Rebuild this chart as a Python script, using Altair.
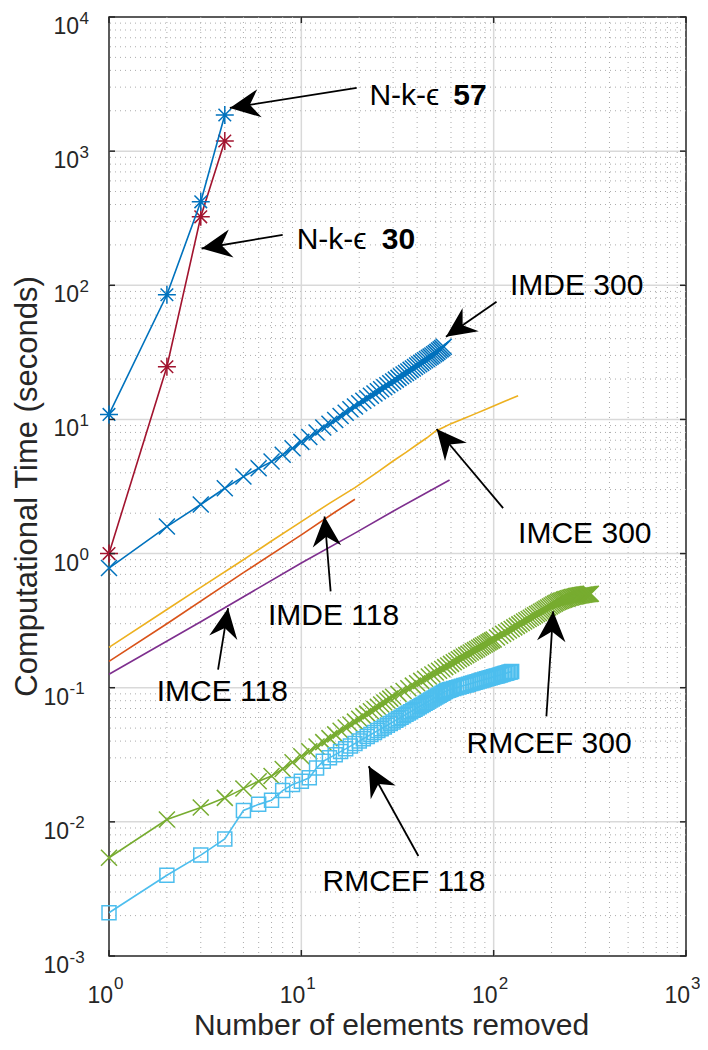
import math
import pandas as pd
import altair as alt

W, H = 577, 939
FONT = "Liberation Sans"
AX = "#262626"

# ---------------- axis ticks ----------------
x_ticks = [1, 10, 100, 1000]
y_ticks = [0.001, 0.01, 0.1, 1, 10, 100, 1000, 10000]
minor_x = [m * t for t in x_ticks[:-1] for m in range(2, 10)]
minor_y = [m * t for t in y_ticks[:-1] for m in range(2, 10)]

x_title = "Number of elements removed"
y_title = "Computational Time (seconds)"

# ---------------- data ----------------
nk57_x = [1, 2, 3, 4]
nk57_y = [10.9, 85, 419, 1860]

nk30_x = [1, 2, 3, 4]
nk30_y = [1.0, 24.7, 324, 1190]

imde300_x = list(range(1, 56))
imde300_y = [0.78, 1.59, 2.32, 3.07, 3.75, 4.32, 4.85, 5.45, 6.1, 6.8,
             7.4, 8.0, 8.7, 9.3, 9.9, 10.6, 11.2, 11.9, 12.5, 13.2,
             13.8, 14.4, 15.0, 15.6, 16.2, 16.8, 17.4, 18.0, 18.6, 19.2,
             19.8, 20.4, 21.0, 21.6, 22.2, 22.8, 23.4, 24.0, 24.6, 25.2,
             25.8, 26.4, 27.0, 27.6, 28.2, 28.8, 29.4, 30.0, 30.6, 31.2,
             31.9, 32.6, 33.3, 34.0, 34.8]

imce300_x = [1, 2, 3, 5, 7, 10, 14, 19, 25, 30, 35, 40, 45, 50, 55, 60, 70,
             80, 90, 100, 115, 134]
imce300_y = [0.20, 0.383, 0.56, 0.90, 1.24, 1.73, 2.37, 3.1, 4.07, 4.9, 5.68,
             6.5, 7.3, 8.2, 8.75, 9.3, 10.16, 11.0, 11.8, 12.6, 13.7, 15.0]

imde118_x = [1, 2, 5, 10, 15, 19]
imde118_y = [0.157, 0.30, 0.72, 1.38, 2.04, 2.54]

imce118_x = [1, 3, 10, 19, 30, 45, 59]
imce118_y = [0.126, 0.31, 0.85, 1.42, 2.07, 2.85, 3.54]

rmcef300_x = ([1, 2, 3, 4, 5, 6, 7, 8, 9, 10, 11] + list(range(12, 31))
              + list(range(32, 101, 2)) + list(range(104, 321, 4)))
rmcef300_y = [0.0054, 0.0104, 0.0128, 0.0151, 0.0177, 0.0201, 0.0220, 0.0248,
              0.0278, 0.0308, 0.0336,
              # 12 .. 30
              0.0365, 0.0393, 0.0421, 0.0449, 0.0477, 0.0505, 0.0532, 0.0559,
              0.0587, 0.0614, 0.0641, 0.0668, 0.0695, 0.0722, 0.0749, 0.0776,
              0.0802, 0.0829, 0.0856,
              # 32 .. 100 (step 2)
              0.0900, 0.0946, 0.0991, 0.1036, 0.1081, 0.1125, 0.1168, 0.1212,
              0.1255, 0.1297, 0.1340, 0.1381, 0.1424, 0.1465, 0.1506, 0.1548,
              0.1589, 0.1629, 0.1669, 0.1709, 0.1750, 0.1789, 0.1829, 0.1868,
              0.1906, 0.1946, 0.1985, 0.2024, 0.2063, 0.2101, 0.2139, 0.2177,
              0.2215, 0.2253, 0.2290,
              # 104 .. 320 (step 4)
              0.2367, 0.2443, 0.2519, 0.2594, 0.2669, 0.2743, 0.2818, 0.2891,
              0.2966, 0.3038, 0.3112, 0.3183, 0.3255, 0.3327, 0.3398, 0.3470,
              0.3540, 0.3611, 0.3680, 0.3752, 0.3820, 0.3892, 0.3960, 0.4030,
              0.4100, 0.4170, 0.4235, 0.4295, 0.4350, 0.4400, 0.4448, 0.4493,
              0.4535, 0.4575, 0.4612, 0.4647, 0.4680, 0.4711, 0.4740, 0.4767,
              0.4792, 0.4816, 0.4838, 0.4859, 0.4878, 0.4896, 0.4913, 0.4929,
              0.4944, 0.4958, 0.4971, 0.4983, 0.4994, 0.5004, 0.5013]

rmcef118_x = list(range(1, 61)) + list(range(62, 125, 2))
rmcef118_y = [0.0021, 0.0040, 0.00565, 0.00746, 0.01216, 0.0135, 0.0145,
              0.0171, 0.0190, 0.0201, 0.0213, 0.0252, 0.0283,
              # 14 .. 28
              0.0300, 0.0317, 0.0334, 0.0350, 0.0367, 0.0384, 0.0400, 0.0416,
              0.0432, 0.0448, 0.0464, 0.0479, 0.0495, 0.0510, 0.0525,
              # 29 .. 60
              0.0541, 0.0556, 0.0572, 0.0587, 0.0602, 0.0617, 0.0633, 0.0648,
              0.0663, 0.0678, 0.0692, 0.0707, 0.0722, 0.0737, 0.0751, 0.0766,
              0.0780, 0.0795, 0.0809, 0.0824, 0.0838, 0.0852, 0.0866, 0.0880,
              0.0894, 0.0908, 0.0922, 0.0936, 0.0950, 0.0958, 0.0966, 0.0973,
              # 62 .. 124 (step 2)
              0.0987, 0.1000, 0.1013, 0.1025, 0.1038, 0.1048, 0.1063, 0.1074,
              0.1084, 0.1098, 0.1109, 0.1120, 0.1131, 0.1142, 0.1154, 0.1164,
              0.1174, 0.1184, 0.1195, 0.1206, 0.1216, 0.1225, 0.1235, 0.1245,
              0.1255, 0.1264, 0.1274, 0.1283, 0.1292, 0.1302, 0.1311, 0.1320]

# ---------------- annotations ----------------
ann_label = ["N-k-\u03f5", "N-k-\u03f5", "IMDE 300", "IMCE 300", "IMDE 118",
             "IMCE 118", "RMCEF 300", "RMCEF 118"]
ann_x = [22.6, 9.46, 121.5, 134, 6.71, 1.77, 72.3, 12.9]
ann_y = [2208, 188, 84.6, 1.195, 0.295, 0.0793, 0.0327, 0.00305]
bold_label = ["57", "30"]
bold_x = [61.7, 26.2]
bold_y = [2208, 188]

tail_x = [19.4, 8.0, 103.5, 112, 14.2, 3.69, 188, 40.6]
tail_y = [2958, 238, 75.4, 2.18, 0.523, 0.1365, 0.0612, 0.00556]
tip_x = [4.25, 3.03, 56.5, 50.5, 13.2, 4.16, 204, 22.4]
tip_y = [2098, 188, 41.4, 8.49, 1.89, 0.392, 0.371, 0.026]

# ---------------- helpers ----------------
xs = alt.Scale(type="log", domain=[1, 1000], nice=False)
ys = alt.Scale(type="log", domain=[0.001, 10000], nice=False)


def X(f):
    return alt.X(f, type="quantitative", scale=xs, axis=None)


def Y(f):
    return alt.Y(f, type="quantitative", scale=ys, axis=None)


X_PATH = "M-1,-1L1,1M-1,1L1,-1"
STAR_PATH = "M-1,0L1,0M0,-1L0,1M-0.7,-0.7L0.7,0.7M-0.7,0.7L0.7,-0.7"
HEAD_PATH = "M0,0L-2,-0.95L-1.35,0L-2,0.95Z"

layers = []

# minor grid (dotted)
layers.append(alt.Chart(pd.DataFrame({"v": minor_x})).mark_rule(
    color="#ababab", strokeWidth=1, strokeDash=[1, 4]).encode(x=X("v")))
layers.append(alt.Chart(pd.DataFrame({"v": minor_y})).mark_rule(
    color="#ababab", strokeWidth=1, strokeDash=[1, 4]).encode(y=Y("v")))
# major grid
layers.append(alt.Chart(pd.DataFrame({"v": x_ticks[1:-1]})).mark_rule(
    color="#d9d9d9", strokeWidth=1.5).encode(x=X("v")))
layers.append(alt.Chart(pd.DataFrame({"v": y_ticks[1:-1]})).mark_rule(
    color="#d9d9d9", strokeWidth=1.5).encode(y=Y("v")))


def series(xv, yv, color, shape=None, size=None, lw=1.6):
    df = pd.DataFrame({"x": xv, "y": yv})
    base = alt.Chart(df)
    out = [base.mark_line(color=color, strokeWidth=lw).encode(x=X("x"), y=Y("y"))]
    if shape is not None:
        out.append(base.mark_point(shape=shape, size=size, filled=False,
                                   color=color, strokeWidth=1.5, opacity=1)
                   .encode(x=X("x"), y=Y("y")))
    return out


layers += series(rmcef300_x, rmcef300_y, "#77AC30", X_PATH, 256)
layers += series(rmcef118_x, rmcef118_y, "#4DBEEE", "square", 196)
layers += series(imce118_x, imce118_y, "#7E2F8E")
layers += series(imde118_x, imde118_y, "#D95319")
layers += series(imce300_x, imce300_y, "#EDB120")
layers += series(imde300_x, imde300_y, "#0072BD", X_PATH, 256)
layers += series(nk30_x, nk30_y, "#A2142F", STAR_PATH, 324)
layers += series(nk57_x, nk57_y, "#0072BD", STAR_PATH, 324)

# inward ticks on all four sides
xt = alt.Chart(pd.DataFrame({"v": x_ticks}))
yt = alt.Chart(pd.DataFrame({"v": y_ticks}))
layers.append(xt.mark_rule(color=AX, strokeWidth=1.5).encode(
    x=X("v"), y=alt.value(H), y2=alt.value(H - 6)))
layers.append(xt.mark_rule(color=AX, strokeWidth=1.5).encode(
    x=X("v"), y=alt.value(0), y2=alt.value(6)))
layers.append(yt.mark_rule(color=AX, strokeWidth=1.5).encode(
    y=Y("v"), x=alt.value(0), x2=alt.value(6)))
layers.append(yt.mark_rule(color=AX, strokeWidth=1.5).encode(
    y=Y("v"), x=alt.value(W), x2=alt.value(W - 6)))

# arrows
angles = []
for a, b, c, d in zip(tail_x, tail_y, tip_x, tip_y):
    dx = (math.log10(c) - math.log10(a)) * W / 3
    dy = -(math.log10(d) - math.log10(b)) * H / 7
    angles.append(math.degrees(math.atan2(dy, dx)) % 360)
arr = alt.Chart(pd.DataFrame({"x1": tail_x, "y1": tail_y, "x2": tip_x,
                              "y2": tip_y, "ang": angles}))
layers.append(arr.mark_rule(color="black", strokeWidth=1.8).encode(
    x=X("x1"), y=Y("y1"), x2="x2", y2="y2"))
layers.append(arr.mark_point(shape=HEAD_PATH, size=900, filled=True,
                             color="black", opacity=1, strokeWidth=0).encode(
    x=X("x2"), y=Y("y2"), angle=alt.Angle("ang:Q", scale=None)))

# annotation text
layers.append(alt.Chart(pd.DataFrame({"x": ann_x, "y": ann_y, "t": ann_label}))
              .mark_text(font=FONT, fontSize=30, color="black", align="left",
                         baseline="alphabetic")
              .encode(x=X("x"), y=Y("y"), text="t:N"))
layers.append(alt.Chart(pd.DataFrame({"x": bold_x, "y": bold_y, "t": bold_label}))
              .mark_text(font=FONT, fontSize=30, fontWeight="bold", color="black",
                         align="left", baseline="alphabetic")
              .encode(x=X("x"), y=Y("y"), text="t:N"))


def exp_of(v):
    return str(int(round(math.log10(v))))


# tick labels: x
xl = alt.Chart(pd.DataFrame({"v": x_ticks, "e": [exp_of(v) for v in x_ticks]}))
layers.append(xl.mark_text(text="10", font=FONT, fontSize=23, color=AX,
                           align="right", baseline="alphabetic", dx=4)
              .encode(x=X("v"), y=alt.value(H + 47)))
layers.append(xl.mark_text(font=FONT, fontSize=17, color=AX, align="left",
                           baseline="alphabetic", dx=5)
              .encode(x=X("v"), y=alt.value(H + 33), text="e:N"))

# tick labels: y
yl = alt.Chart(pd.DataFrame({"v": y_ticks, "e": [exp_of(v) for v in y_ticks]}))
for cond, off in (("datum.v >= 1", 0), ("datum.v < 1", 10)):
    layers.append(yl.transform_filter(cond)
                  .mark_text(text="10", font=FONT, fontSize=23, color=AX,
                             align="right", baseline="alphabetic", dy=17)
                  .encode(y=Y("v"), x=alt.value(-30 - off)))
    layers.append(yl.transform_filter(cond)
                  .mark_text(font=FONT, fontSize=17, color=AX, align="left",
                             baseline="alphabetic", dy=6.5)
                  .encode(y=Y("v"), x=alt.value(-29.5 - off), text="e:N"))

# axis titles
layers.append(alt.Chart(pd.DataFrame({"t": [x_title]}))
              .mark_text(font=FONT, fontSize=30, color=AX, align="center",
                         baseline="alphabetic")
              .encode(x=alt.value(W / 2 - 6), y=alt.value(H + 79), text="t:N"))
layers.append(alt.Chart(pd.DataFrame({"t": [y_title]}))
              .mark_text(font=FONT, fontSize=31, color=AX, align="center",
                         baseline="alphabetic", angle=270)
              .encode(x=alt.value(-72), y=alt.value(H / 2), text="t:N"))

chart = (alt.layer(*layers)
         .properties(width=W, height=H,
                     padding={"left": 101, "top": 9, "right": 14, "bottom": 86},
                     autosize=alt.AutoSizeParams(type="none"))
         .configure_view(stroke=AX, strokeWidth=1.5))

chart.save("out.html", embed_options={"renderer": "svg", "actions": False})
